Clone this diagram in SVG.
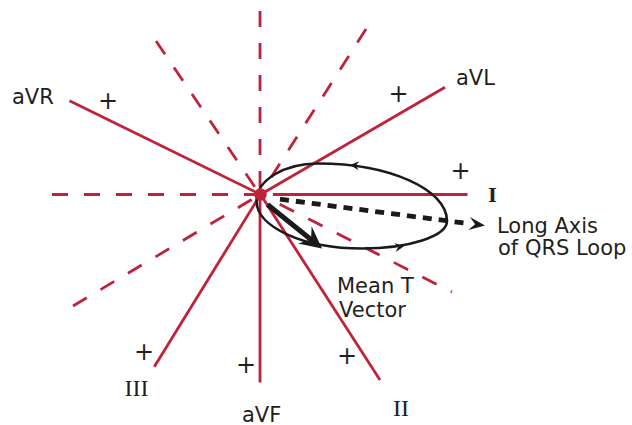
<svg xmlns="http://www.w3.org/2000/svg" width="632" height="425" viewBox="0 0 632 425">
<style>
.ax{stroke:#c0223b;stroke-width:2.8;fill:none}
.dash{stroke-dasharray:16 16}
.lbl{font-family:"DejaVu Sans",Verdana,sans-serif;font-size:21px;fill:#231f20}
.rom{font-family:"Liberation Serif","Times New Roman",serif;font-size:24px;fill:#231f20}
.plus{font-family:"DejaVu Sans",Verdana,sans-serif;font-size:24px;fill:#231f20;text-anchor:middle}
.blk{stroke:#1a1a1a;fill:none}
</style>
<defs>
<path id="ah" d="M0,0 L-9,-4.5 L-6,0 L-9,4.5 Z" fill="#1a1a1a"/>
</defs>
<g id="connectors">
<g id="axes">
<line class="ax dash" x1="260" y1="11" x2="260" y2="190"/>
<line class="ax dash" x1="52" y1="194.5" x2="255" y2="194.5"/>
<line class="ax dash" x1="156" y1="41" x2="257" y2="190"/>
<line class="ax dash" x1="366" y1="29" x2="263" y2="190"/>
<line class="ax dash" x1="73" y1="306" x2="255" y2="197.5"/>
<line class="ax dash" x1="260.5" y1="194.5" x2="452" y2="292" stroke-dashoffset="10.4"/>
<line class="ax" x1="69.5" y1="100.7" x2="260.5" y2="194.5"/>
<line class="ax" x1="260.5" y1="194.5" x2="445" y2="87.3"/>
<line class="ax" x1="273" y1="194.5" x2="467.5" y2="194.5"/>
<line class="ax" x1="260" y1="194.5" x2="260" y2="382.5"/>
<line class="ax" x1="260.5" y1="194.5" x2="380" y2="380"/>
<line class="ax" x1="260.5" y1="194.5" x2="154.3" y2="366.7"/>
</g>
<g id="qrs-loop">
<path class="blk" stroke-width="2.6" d="M256.5,201 C256.5,180.3 284,163.5 318,163.5 C389.2,163.5 447,189.3 447,221 C447,236.2 408.9,248.5 362,248.5 C303.8,248.5 256.5,227.2 256.5,201 Z"/>
<use href="#ah" transform="translate(350,165) rotate(185)"/>
<use href="#ah" transform="translate(404,246.3) rotate(-8)"/>
</g>
<g id="long-axis">
<line class="blk" stroke-width="4.8" stroke-dasharray="9 7" x1="280" y1="199.2" x2="464" y2="223"/>
<path d="M0,0 L-16,-6.5 L-10,0 L-16,6.5 Z" fill="#1a1a1a" transform="translate(485,225.5) rotate(7.3)"/>
</g>
<g id="mean-t">
<line class="blk" stroke-width="5" x1="267.5" y1="204.5" x2="311.5" y2="240"/>
<path d="M0,0 L-22,-11 L-14,0 L-22,11 Z" fill="#1a1a1a" transform="translate(322,248.5) rotate(38.5)"/>
</g>
</g>
<g id="center">
<circle cx="260.5" cy="194.5" r="6.2" fill="#c0223b"/>
</g>
<g id="label-aVR"><text class="lbl" x="12" y="104">aVR</text><text class="plus" x="108" y="109">+</text></g>
<g id="label-aVL"><text class="lbl" x="456" y="85">aVL</text><text class="plus" x="398.5" y="101.5">+</text></g>
<g id="label-I"><text x="488" y="202" font-family="'DejaVu Serif',serif" font-weight="bold" font-size="19" fill="#231f20">I</text><text class="plus" x="460.5" y="179">+</text></g>
<g id="label-III"><text class="rom" x="124.5" y="396">III</text><text class="plus" x="144" y="360">+</text></g>
<g id="label-aVF"><text class="lbl" x="242" y="421.5">aVF</text><text class="plus" x="246" y="373">+</text></g>
<g id="label-II"><text class="rom" x="393" y="416">II</text><text class="plus" x="347" y="363.5">+</text></g>
<g id="label-long-axis"><text class="lbl" x="497" y="233">Long Axis</text><text class="lbl" x="498" y="255">of QRS Loop</text></g>
<g id="label-mean-t"><text class="lbl" x="337" y="293">Mean T</text><text class="lbl" x="339" y="317">Vector</text></g>
</svg>
